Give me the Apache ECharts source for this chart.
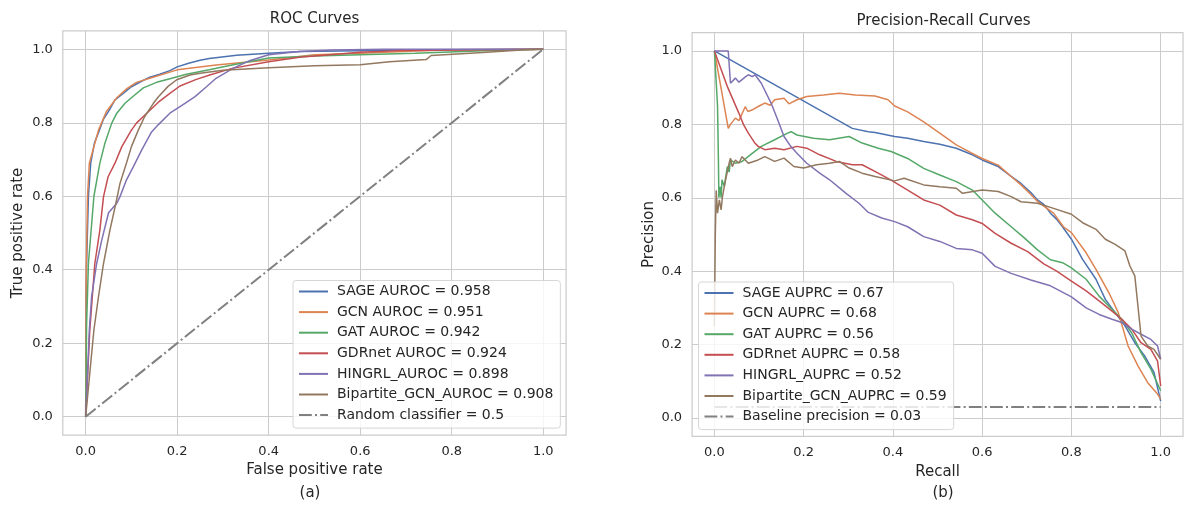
<!DOCTYPE html>
<html>
<head>
<meta charset="utf-8">
<title>ROC and Precision-Recall Curves</title>
<script src="https://cdn.jsdelivr.net/npm/echarts@6/dist/echarts.min.js"></script>
<style>
  html, body { margin: 0; padding: 0; background: #ffffff; }
  #chart { width: 1186px; height: 513px; }
</style>
</head>
<body>
<div id="chart"></div>
<script>
// ---------- ROC curves (false positive rate / true positive rate) ----------
const rocSageFpr = [0, 0.001, 0.002, 0.006, 0.011, 0.019, 0.030, 0.039, 0.052, 0.064, 0.082, 0.100, 0.119, 0.140, 0.162, 0.184, 0.200, 0.225, 0.250, 0.270, 0.330, 0.400, 0.470, 0.600, 0.750, 1.0];
const rocSageTpr = [0, 0.300, 0.417, 0.600, 0.690, 0.744, 0.780, 0.810, 0.835, 0.862, 0.880, 0.898, 0.911, 0.924, 0.932, 0.942, 0.952, 0.962, 0.970, 0.975, 0.984, 0.989, 0.994, 0.996, 0.999, 1.0];

const rocGcnFpr = [0, 0.001, 0.0015, 0.004, 0.008, 0.028, 0.045, 0.068, 0.090, 0.111, 0.140, 0.200, 0.285, 0.400, 0.500, 0.600, 0.720, 0.800, 1.0];
const rocGcnTpr = [0, 0.350, 0.417, 0.600, 0.690, 0.780, 0.830, 0.868, 0.893, 0.910, 0.921, 0.944, 0.957, 0.971, 0.985, 0.989, 0.995, 0.999, 1.0];

const rocGatFpr = [0, 0.002, 0.006, 0.018, 0.031, 0.042, 0.057, 0.068, 0.086, 0.100, 0.126, 0.155, 0.184, 0.220, 0.270, 0.320, 0.400, 0.500, 0.600, 0.720, 0.870, 1.0];
const rocGatTpr = [0, 0.250, 0.417, 0.600, 0.690, 0.744, 0.799, 0.826, 0.853, 0.868, 0.895, 0.910, 0.920, 0.932, 0.944, 0.957, 0.976, 0.982, 0.985, 0.989, 0.996, 1.0];

const rocGdrFpr = [0, 0.002, 0.009, 0.020, 0.031, 0.039, 0.049, 0.064, 0.079, 0.100, 0.111, 0.137, 0.159, 0.184, 0.206, 0.242, 0.271, 0.320, 0.400, 0.467, 0.600, 0.700, 1.0];
const rocGdrTpr = [0, 0.054, 0.236, 0.417, 0.508, 0.599, 0.653, 0.690, 0.735, 0.780, 0.799, 0.830, 0.856, 0.880, 0.900, 0.918, 0.930, 0.948, 0.966, 0.978, 0.992, 0.997, 1.0];

const rocHingrlFpr = [0, 0.002, 0.008, 0.013, 0.024, 0.035, 0.050, 0.068, 0.075, 0.089, 0.104, 0.122, 0.144, 0.159, 0.184, 0.217, 0.239, 0.264, 0.285, 0.322, 0.358, 0.400, 0.467, 0.540, 0.650, 1.0];
const rocHingrlTpr = [0, 0.054, 0.236, 0.327, 0.417, 0.480, 0.555, 0.581, 0.599, 0.644, 0.680, 0.725, 0.775, 0.795, 0.826, 0.853, 0.871, 0.898, 0.921, 0.948, 0.969, 0.985, 0.994, 0.998, 1.0, 1.0];

const rocBipFpr = [0, 0.011, 0.018, 0.028, 0.039, 0.053, 0.066, 0.075, 0.089, 0.100, 0.115, 0.129, 0.148, 0.159, 0.180, 0.199, 0.228, 0.250, 0.300, 0.400, 0.500, 0.600, 0.664, 0.744, 0.755, 0.868, 0.960, 1.0];
const rocBipTpr = [0, 0.145, 0.236, 0.327, 0.417, 0.508, 0.581, 0.635, 0.690, 0.735, 0.780, 0.817, 0.853, 0.871, 0.899, 0.917, 0.930, 0.935, 0.943, 0.950, 0.955, 0.958, 0.966, 0.972, 0.983, 0.991, 0.999, 1.0];

const rocRandomFpr = [0, 1];
const rocRandomTpr = [0, 1];

// ---------- Precision-recall curves (recall / precision) ----------
const prSageRecall = [0, 0.309, 0.345, 0.360, 0.404, 0.433, 0.469, 0.505, 0.542, 0.578, 0.600, 0.636, 0.665, 0.687, 0.709, 0.724, 0.738, 0.753, 0.767, 0.780, 0.800, 0.825, 0.855, 0.876, 0.898, 0.920, 0.942, 0.964, 0.985, 1.0];
const prSagePrecision = [1.0, 0.789, 0.780, 0.778, 0.767, 0.762, 0.753, 0.746, 0.735, 0.717, 0.703, 0.685, 0.658, 0.639, 0.614, 0.594, 0.582, 0.558, 0.541, 0.521, 0.487, 0.432, 0.378, 0.323, 0.287, 0.251, 0.205, 0.169, 0.124, 0.046];

const prGcnRecall = [0, 0.031, 0.036, 0.047, 0.055, 0.069, 0.075, 0.084, 0.100, 0.113, 0.125, 0.135, 0.156, 0.160, 0.167, 0.185, 0.207, 0.244, 0.280, 0.316, 0.360, 0.389, 0.404, 0.433, 0.469, 0.505, 0.542, 0.578, 0.600, 0.636, 0.665, 0.687, 0.709, 0.724, 0.738, 0.760, 0.782, 0.800, 0.833, 0.855, 0.884, 0.905, 0.927, 0.949, 0.971, 0.993, 1.0];
const prGcnPrecision = [1.0, 0.789, 0.800, 0.817, 0.810, 0.848, 0.835, 0.839, 0.850, 0.858, 0.852, 0.867, 0.871, 0.873, 0.856, 0.867, 0.876, 0.880, 0.885, 0.880, 0.877, 0.867, 0.850, 0.834, 0.807, 0.776, 0.744, 0.721, 0.707, 0.689, 0.658, 0.635, 0.609, 0.590, 0.577, 0.558, 0.521, 0.505, 0.450, 0.405, 0.341, 0.287, 0.196, 0.142, 0.096, 0.065, 0.051];

const prGatRecall = [0, 0.007, 0.009, 0.010, 0.013, 0.015, 0.017, 0.022, 0.029, 0.033, 0.036, 0.047, 0.062, 0.084, 0.105, 0.135, 0.164, 0.172, 0.185, 0.222, 0.258, 0.302, 0.331, 0.367, 0.396, 0.433, 0.469, 0.505, 0.542, 0.578, 0.600, 0.629, 0.665, 0.695, 0.724, 0.753, 0.782, 0.800, 0.833, 0.862, 0.891, 0.913, 0.935, 0.956, 0.978, 1.0];
const prGatPrecision = [1.0, 0.850, 0.700, 0.600, 0.630, 0.600, 0.649, 0.631, 0.685, 0.670, 0.703, 0.694, 0.699, 0.720, 0.740, 0.758, 0.776, 0.780, 0.771, 0.762, 0.758, 0.767, 0.749, 0.735, 0.726, 0.707, 0.680, 0.662, 0.644, 0.621, 0.594, 0.558, 0.521, 0.490, 0.458, 0.431, 0.422, 0.409, 0.378, 0.332, 0.296, 0.269, 0.232, 0.178, 0.133, 0.074];

const prGdrRecall = [0, 0.030, 0.055, 0.065, 0.076, 0.090, 0.098, 0.113, 0.135, 0.156, 0.185, 0.207, 0.236, 0.273, 0.309, 0.331, 0.367, 0.396, 0.433, 0.469, 0.505, 0.542, 0.578, 0.600, 0.629, 0.665, 0.702, 0.738, 0.767, 0.800, 0.833, 0.862, 0.891, 0.913, 0.935, 0.956, 0.978, 0.993, 1.0];
const prGdrPrecision = [1.0, 0.900, 0.830, 0.800, 0.776, 0.750, 0.740, 0.731, 0.735, 0.731, 0.740, 0.735, 0.717, 0.699, 0.690, 0.690, 0.667, 0.648, 0.621, 0.594, 0.580, 0.553, 0.540, 0.530, 0.503, 0.476, 0.453, 0.420, 0.400, 0.373, 0.346, 0.319, 0.291, 0.269, 0.242, 0.205, 0.187, 0.155, 0.087];

const prHingrlRecall = [0, 0.031, 0.036, 0.047, 0.055, 0.062, 0.070, 0.076, 0.085, 0.091, 0.105, 0.127, 0.142, 0.156, 0.171, 0.185, 0.207, 0.236, 0.258, 0.295, 0.324, 0.345, 0.375, 0.404, 0.433, 0.469, 0.505, 0.542, 0.578, 0.600, 0.629, 0.665, 0.709, 0.753, 0.800, 0.833, 0.862, 0.891, 0.913, 0.935, 0.956, 0.978, 0.993, 1.0];
const prHingrlPrecision = [1.0, 1.0, 0.912, 0.926, 0.915, 0.922, 0.930, 0.935, 0.930, 0.935, 0.912, 0.858, 0.812, 0.767, 0.740, 0.721, 0.694, 0.667, 0.649, 0.612, 0.585, 0.560, 0.545, 0.535, 0.521, 0.494, 0.481, 0.462, 0.458, 0.449, 0.413, 0.394, 0.376, 0.360, 0.330, 0.300, 0.282, 0.269, 0.260, 0.242, 0.228, 0.214, 0.196, 0.160];

const prBipRecall = [0, 0.002, 0.004, 0.007, 0.011, 0.015, 0.018, 0.025, 0.033, 0.036, 0.040, 0.047, 0.055, 0.062, 0.076, 0.098, 0.113, 0.135, 0.156, 0.178, 0.200, 0.229, 0.258, 0.280, 0.302, 0.331, 0.360, 0.404, 0.425, 0.469, 0.505, 0.542, 0.556, 0.600, 0.636, 0.665, 0.687, 0.724, 0.760, 0.800, 0.825, 0.855, 0.876, 0.898, 0.920, 0.931, 0.942, 0.949, 0.956, 0.971, 0.985, 1.0];
const prBipPrecision = [0.250, 0.500, 0.620, 0.558, 0.594, 0.567, 0.603, 0.649, 0.694, 0.708, 0.685, 0.703, 0.694, 0.712, 0.694, 0.703, 0.712, 0.699, 0.708, 0.685, 0.681, 0.690, 0.694, 0.699, 0.681, 0.667, 0.658, 0.646, 0.653, 0.635, 0.630, 0.626, 0.612, 0.621, 0.617, 0.603, 0.589, 0.585, 0.571, 0.555, 0.532, 0.514, 0.487, 0.473, 0.455, 0.414, 0.387, 0.305, 0.223, 0.196, 0.187, 0.160];

const prBaselineRecall = [0, 1];
const prBaselinePrecision = [0.03, 0.03];

// ---------- tick values ----------
const tickValues = [0.0, 0.2, 0.4, 0.6, 0.8, 1.0];

// ---------- styling ----------
const FONT = 'DejaVu Sans';
const TEXT = '#262626';
const GRID_LINE = '#cccccc';
const PALETTE = ['#4C72B0', '#DD8452', '#55A868', '#C44E52', '#8172B3', '#937860'];
const GRAY = '#808080';
const DASH_DOT = [12.8, 3.2, 2, 3.2];
const CLEAR = 'rgba(0,0,0,0)';

const pairs = (xs, ys) => xs.map((x, i) => [x, ys[i]]);

// Axis ticks step 0.05 from -0.05 so that grid lines and labels land on 0.0, 0.2, ... 1.0
const isMajor = v => tickValues.some(t => Math.abs(t - v) < 1e-6);
const labelFmt = v => (isMajor(v) ? v.toFixed(1) : '');
const splitColors = [CLEAR, GRID_LINE, CLEAR, CLEAR];

function valueAxis(gridIndex, name, nameGap) {
  return {
    gridIndex, type: 'value', min: -0.05, max: 1.05, interval: 0.05,
    name, nameLocation: 'middle', nameGap,
    nameTextStyle: { fontFamily: FONT, fontSize: 15, color: TEXT },
    axisLine: { show: false }, axisTick: { show: false },
    axisLabel: { fontFamily: FONT, fontSize: 13, color: TEXT, margin: 10, formatter: labelFmt, showMinLabel: true, showMaxLabel: true },
    splitLine: { show: true, lineStyle: { color: splitColors, width: 1 } }
  };
}

function curve(name, xs, ys, color, axisIdx, extra) {
  return Object.assign({
    name, type: 'line', xAxisIndex: axisIdx, yAxisIndex: axisIdx,
    data: pairs(xs, ys), symbol: 'none', showSymbol: false, smooth: false,
    lineStyle: { color, width: 1.5 }, itemStyle: { color },
    emphasis: { disabled: true }, silent: true, clip: true
  }, extra || {});
}

const rocNames = [
  'SAGE AUROC = 0.958', 'GCN AUROC = 0.951', 'GAT AUROC = 0.942', 'GDRnet AUROC = 0.924',
  'HINGRL_AUROC = 0.898', 'Bipartite_GCN_AUROC = 0.908', 'Random classifier = 0.5'
];
const prNames = [
  'SAGE AUPRC = 0.67', 'GCN AUPRC = 0.68', 'GAT AUPRC = 0.56', 'GDRnet AUPRC = 0.58',
  'HINGRL_AUPRC = 0.52', 'Bipartite_GCN_AUPRC = 0.59', 'Baseline precision = 0.03'
];

const dashed = c => ({ lineStyle: { color: c, width: 2, type: DASH_DOT } });

const series = [
  curve(rocNames[0], rocSageFpr, rocSageTpr, PALETTE[0], 0),
  curve(rocNames[1], rocGcnFpr, rocGcnTpr, PALETTE[1], 0),
  curve(rocNames[2], rocGatFpr, rocGatTpr, PALETTE[2], 0),
  curve(rocNames[3], rocGdrFpr, rocGdrTpr, PALETTE[3], 0),
  curve(rocNames[4], rocHingrlFpr, rocHingrlTpr, PALETTE[4], 0),
  curve(rocNames[5], rocBipFpr, rocBipTpr, PALETTE[5], 0),
  curve(rocNames[6], rocRandomFpr, rocRandomTpr, GRAY, 0, dashed(GRAY)),
  curve(prNames[0], prSageRecall, prSagePrecision, PALETTE[0], 1),
  curve(prNames[1], prGcnRecall, prGcnPrecision, PALETTE[1], 1),
  curve(prNames[2], prGatRecall, prGatPrecision, PALETTE[2], 1),
  curve(prNames[3], prGdrRecall, prGdrPrecision, PALETTE[3], 1),
  curve(prNames[4], prHingrlRecall, prHingrlPrecision, PALETTE[4], 1),
  curve(prNames[5], prBipRecall, prBipPrecision, PALETTE[5], 1),
  curve(prNames[6], prBaselineRecall, prBaselinePrecision, GRAY, 1, dashed(GRAY))
];

// Legend entries show only the line sample (the marker is made invisible)
function legendBox(names, left, top) {
  return {
    data: names, orient: 'vertical', left, top,
    itemWidth: 29, itemHeight: 14, itemGap: 6.6,
    padding: [4, 7, 6, 5],
    backgroundColor: 'rgba(255,255,255,0.8)',
    borderColor: '#d6d6d6', borderWidth: 1, borderRadius: 3,
    selectedMode: false,
    itemStyle: { opacity: 0 },
    textStyle: { fontFamily: FONT, fontSize: 14, color: TEXT, padding: [0, 0, 0, 4] }
  };
}

const textEl = (x, y, text, size) => ({
  type: 'text', x, y, silent: true,
  style: { text, fill: TEXT, font: `${size}px "${FONT}"`, align: 'center', verticalAlign: 'middle' }
});

const chart = echarts.init(document.getElementById('chart'), null, { renderer: 'canvas' });
chart.setOption({
  animation: false,
  backgroundColor: '#ffffff',
  textStyle: { fontFamily: FONT, color: TEXT },
  grid: [
    { left: 62.8, top: 30.9, width: 503.3, height: 404.2, show: true, borderColor: GRID_LINE, borderWidth: 1.25, backgroundColor: '#ffffff' },
    { left: 692.1, top: 32.6, width: 504.3, height: 403.7, show: true, borderColor: GRID_LINE, borderWidth: 1.25, backgroundColor: '#ffffff' }
  ],
  xAxis: [valueAxis(0, 'False positive rate', 27), valueAxis(1, 'Recall', 27)],
  yAxis: [valueAxis(0, 'True positive rate', 37), valueAxis(1, 'Precision', 35)],
  legend: [legendBox(rocNames, 293, 280.5), legendBox(prNames, 698.5, 282)],
  graphic: [
    textEl(314.5, 19, 'ROC Curves', 15),
    textEl(943.5, 21, 'Precision-Recall Curves', 15),
    textEl(310, 493, '(a)', 15),
    textEl(943, 493, '(b)', 15)
  ],
  series
});
</script>
</body>
</html>
